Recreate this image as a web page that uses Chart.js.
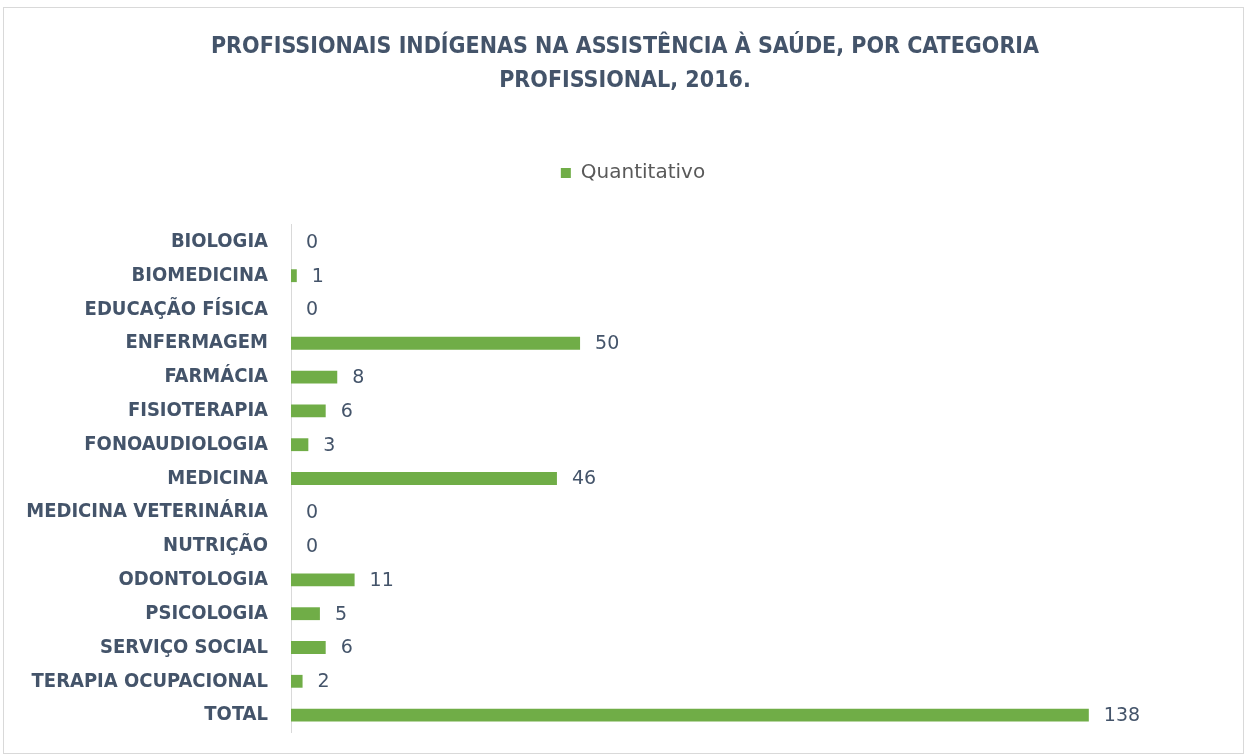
<!DOCTYPE html>
<html>
<head>
<meta charset="utf-8">
<script src="https://cdn.jsdelivr.net/npm/chart.js@4"></script>
<style>
  html, body { margin: 0; padding: 0; background: #fff; }
  #wrap { width: 1248px; height: 756px; }
</style>
</head>
<body>
<div id="wrap"><canvas id="myChart" width="1248" height="756"></canvas></div>
<script>
// categorias profissionais e quantitativos (2016)
var categorias = [
    "BIOLOGIA", "BIOMEDICINA", "EDUCAÇÃO FÍSICA", "ENFERMAGEM", "FARMÁCIA",
    "FISIOTERAPIA", "FONOAUDIOLOGIA", "MEDICINA", "MEDICINA VETERINÁRIA",
    "NUTRIÇÃO", "ODONTOLOGIA", "PSICOLOGIA", "SERVIÇO SOCIAL",
    "TERAPIA OCUPACIONAL", "TOTAL"
];
var quantitativo = [0, 1, 0, 50, 8, 6, 3, 46, 0, 0, 11, 5, 6, 2, 138];
var tituloLinhas = [
    "PROFISSIONAIS INDÍGENAS NA ASSISTÊNCIA À SAÚDE, POR CATEGORIA",
    "PROFISSIONAL, 2016."
];

var corTexto = '#44546a';
var corBarra = '#70ad47';

// moldura do gráfico
var moldura = {
    id: 'moldura',
    beforeDraw: function (chart) {
        var c = chart.ctx;
        c.save();
        c.fillStyle = '#ffffff';
        c.fillRect(0, 0, chart.width, chart.height);
        c.strokeStyle = '#d9d9d9';
        c.lineWidth = 1;
        c.strokeRect(3.5, 7.5, 1240, 746);
        c.restore();
    },
    afterLayout: function (chart) {
        // título e legenda um pouco deslocados para a direita, como no original
        chart.legend.left += 40;
        chart.titleBlock.left += 24;
    }
};

// rótulos de valor à direita das barras
var rotulos = {
    id: 'rotulos',
    afterDatasetsDraw: function (chart) {
        var c = chart.ctx;
        var meta = chart.getDatasetMeta(0);
        c.save();
        c.font = '19px "DejaVu Sans"';
        c.fillStyle = corTexto;
        c.textAlign = 'left';
        c.textBaseline = 'middle';
        meta.data.forEach(function (bar, i) {
            c.fillText(String(quantitativo[i]), bar.x + 15, bar.y + 1);
        });
        c.restore();
    }
};

var ctx = document.getElementById("myChart").getContext('2d');
var myChart = new Chart(ctx, {
    type: 'bar',
    data: {
        labels: categorias,
        datasets: [{
            label: 'Quantitativo',
            data: quantitativo,
            backgroundColor: corBarra,
            borderWidth: 0,
            barPercentage: 0.38,
            categoryPercentage: 1
        }]
    },
    options: {
        indexAxis: 'y',
        responsive: false,
        animation: false,
        layout: { padding: { top: 8, left: 10, right: 32, bottom: 24 } },
        plugins: {
            title: {
                display: true,
                text: tituloLinhas,
                color: corTexto,
                font: { family: '"DejaVu Sans Condensed", "DejaVu Sans"', size: 23, weight: 'bold', lineHeight: 1.478 },
                padding: { top: 22, bottom: 55 }
            },
            legend: {
                display: true,
                labels: {
                    color: '#595959',
                    font: { family: '"DejaVu Sans"', size: 20 },
                    boxWidth: 10,
                    boxHeight: 10,
                    padding: 10
                }
            },
            tooltip: { enabled: false }
        },
        scales: {
            x: {
                position: 'top',
                min: 0,
                max: 160,
                display: true,
                grid: { display: false },
                border: { display: false },
                ticks: { display: false },
                afterFit: function (scale) { scale.height = 32; }
            },
            y: {
                grid: { display: false },
                border: { display: true, color: '#d9d9d9', width: 1 },
                ticks: {
                    color: corTexto,
                    padding: 15,
                    font: { family: '"DejaVu Sans Condensed", "DejaVu Sans"', size: 20, weight: 'bold' }
                },
                afterFit: function (scale) {
                    scale.width = 281;
                    scale.paddingTop = 0;
                    scale.paddingBottom = 0;
                }
            }
        }
    },
    plugins: [moldura, rotulos]
});
</script>
</body>
</html>
